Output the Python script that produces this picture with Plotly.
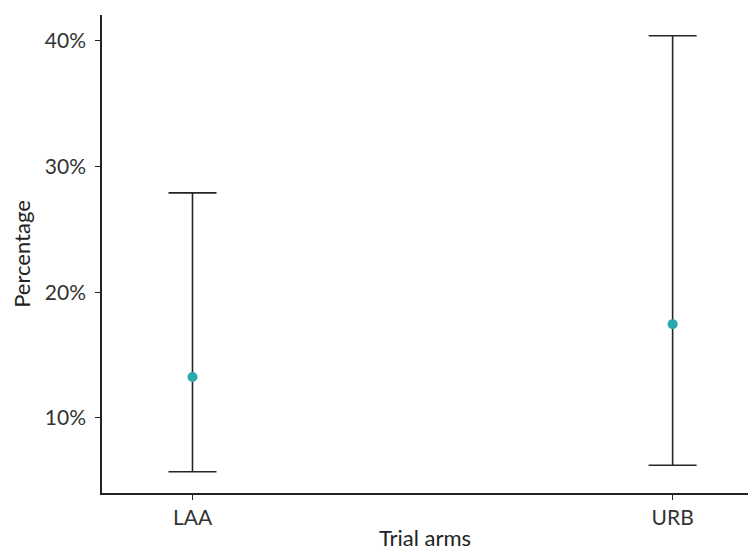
import plotly.graph_objects as go

arms = ["LAA", "URB"]
estimate = [13.25, 17.46]
lower = [5.72, 6.24]
upper = [27.9, 40.4]
y_ticks = [10, 20, 30, 40]
y_tick_labels = ["10%", "20%", "30%", "40%"]

err_plus = [u - e for u, e in zip(upper, estimate)]
err_minus = [e - l for e, l in zip(estimate, lower)]

fig = go.Figure()
fig.add_trace(go.Scatter(
    x=arms, y=estimate, mode="markers",
    marker=dict(color="#2aa8b0", size=10),
    error_y=dict(type="data", symmetric=False, array=err_plus, arrayminus=err_minus,
                 color="#262626", thickness=1.6, width=24),
    showlegend=False,
))

font = "Lato, 'Open Sans', sans-serif"
fig.update_layout(
    width=748, height=551,
    margin=dict(l=102, r=0, t=15, b=58),
    paper_bgcolor="white", plot_bgcolor="white",
    font=dict(family=font, size=21, color="#222222"),
    xaxis=dict(
        type="category", range=[-0.1885, 1.157],
        showline=True, linecolor="#222222", linewidth=1.6,
        ticks="outside", ticklen=5, tickcolor="#222222", tickwidth=1.2,
        showgrid=False, zeroline=False,
        title=dict(text="Trial arms", font=dict(size=22), standoff=5),
        tickfont=dict(size=21, color="#333333"),
    ),
    yaxis=dict(
        range=[4.03, 42.05],
        tickmode="array", tickvals=y_ticks, ticktext=y_tick_labels,
        showline=True, linecolor="#222222", linewidth=1.6,
        ticks="outside", ticklen=5, tickcolor="#222222", tickwidth=1.2,
        ticklabelstandoff=5,
        showgrid=False, zeroline=False,
        title=dict(text="Percentage", font=dict(size=22), standoff=8),
        tickfont=dict(size=21, color="#333333"),
    ),
)

fig.write_html("out.html")
